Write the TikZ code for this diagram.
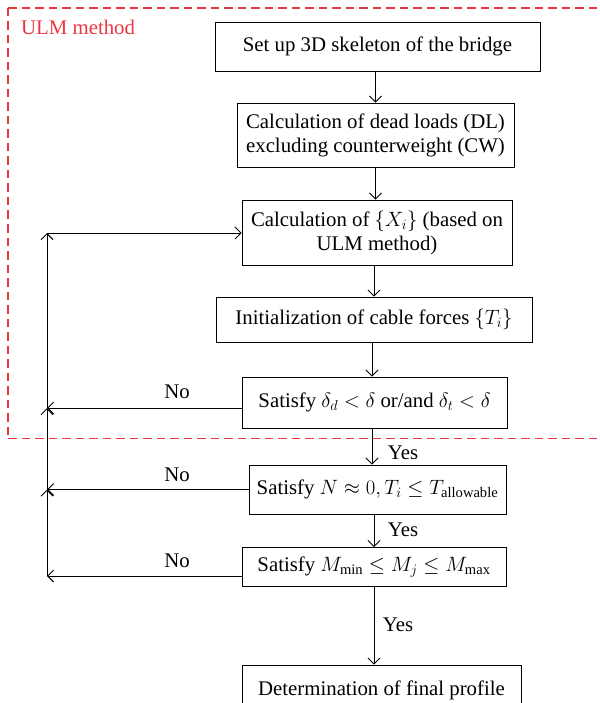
\documentclass[tikz,border=0pt]{standalone}
\usepackage{fontspec}
\setmainfont{Liberation Serif}
\usetikzlibrary{arrows.meta}
\definecolor{ulmred}{RGB}{235,55,65}
\begin{document}
\begin{tikzpicture}[x=1pt,y=-1pt,
  box/.style={draw, line width=0.9pt, inner sep=0pt, align=center, font=\rmfamily\fontsize{20.8}{24}\selectfont},
  arr/.style={line width=0.9pt, -{Straight Barb[length=6pt,width=12pt]}},
  lbl/.style={font=\rmfamily\fontsize{20.8}{24}\selectfont, inner sep=0pt},
  ulmline/.style={draw=ulmred, line width=1.2pt, dash pattern=on 8.5pt off 5pt},
]
\fill[white] (0,0) rectangle (599,703);
\useasboundingbox (0,0) rectangle (599,703);
\draw[ulmline] (8,8) -- (600,8);
\draw[ulmline] (8,8) -- (8,438.5);
\draw[ulmline] (8,438.5) -- (600,438.5);
\node[lbl, text=ulmred, anchor=west] (ulm) at (21,27) {ULM method};

\node[box, minimum width=325pt, minimum height=49pt] (b1) at (377.5,46.5) {Set up 3D skeleton of the bridge};
\node[box, minimum width=277pt, minimum height=64pt] (b2) at (375.5,135) {Calculation of dead loads (DL)\\excluding counterweight (CW)};
\node[box, minimum width=270pt, minimum height=65pt] (b3) at (377,232.5) {Calculation of $\{X_i\}$ (based on\\ULM method)};
\node[box, minimum width=316pt, minimum height=45pt] (b4) at (374,319.5) {Initialization of cable forces $\{T_i\}$};
\node[box, minimum width=265pt, minimum height=51pt] (b5) at (374.5,402.5) {Satisfy $\delta_d<\delta$ or/and $\delta_t<\delta$};
\node[box, minimum width=257pt, minimum height=49pt] (b6) at (377.5,489.5) {Satisfy $N\approx 0, T_i\leq T_{\mathrm{allowable}}$};
\node[box, minimum width=264pt, minimum height=39pt] (b7) at (374,567) {Satisfy $M_{\min}\leq M_j\leq M_{\max}$};
\begin{scope}
\clip (0,0) rectangle (599,703);
\node[box, minimum width=279pt, minimum height=50pt] (b8) at (381.5,690) {Determination of final profile};
\end{scope}

% main flow
\draw[arr] (b1.south -| b2.north) -- (b2.north);
\draw[arr] (b2.south) -- (b2.south |- b3.north);
\draw[arr] (b3.south -| b4.north) -- (b4.north);
\draw[arr] ([xshift=-2pt]b4.south) -- ([xshift=-2.5pt]b5.north);
\draw[arr] ([xshift=-2.5pt]b5.south) -- ([xshift=-5.5pt]b6.north);
\draw[arr] (b6.south -| b7.north) -- (b7.north);
\draw[arr] (b7.south) -- (b7.south |- b8.north);

\node[lbl] (y1) at (403,453) {Yes};
\node[lbl] (y2) at (403,530) {Yes};
\node[lbl] (y3) at (398,625) {Yes};

% feedback loop
\coordinate (ctop) at (47,233);
\coordinate (c5) at (47,408);
\coordinate (c6) at (47,489.5);
\coordinate (c7) at (47,576);
\draw[arr] (b5.west |- c5) -- (c5);
\draw[arr] (b6.west |- c6) -- (c6);
\draw[arr] (b7.west |- c7) -- (c7);
\draw[arr] (c7) -- (c6);
\draw[arr] (c6) -- (c5);
\draw[arr] (c5) -- (ctop);
\draw[arr] (ctop) -- (b3.west |- ctop);

\node[lbl] (n5) at (177,392) {No};
\node[lbl] (n6) at (177,475) {No};
\node[lbl] (n7) at (177,561) {No};
\end{tikzpicture}
\end{document}
